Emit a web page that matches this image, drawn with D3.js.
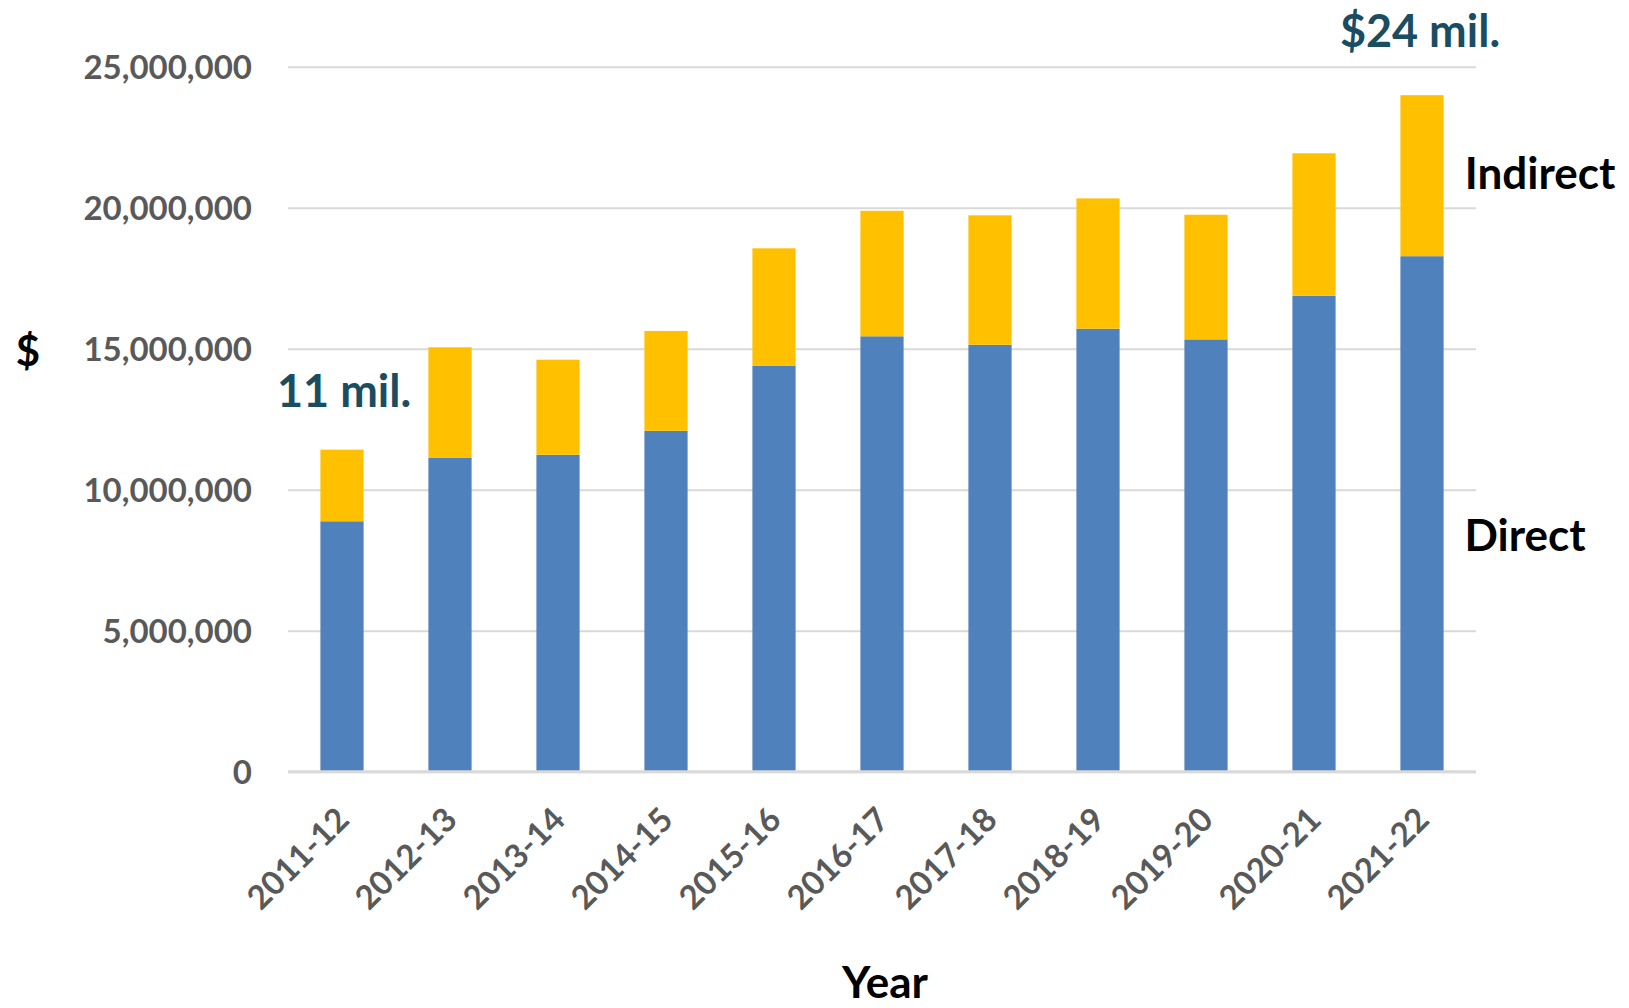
<!DOCTYPE html>
<html>
<head>
<meta charset="utf-8">
<script src="https://cdn.jsdelivr.net/npm/d3@7"></script>
<style>
  body { margin: 0; background: #fff; }
  text { font-family: Lato, "Open Sans", sans-serif; font-weight: bold; }
</style>
</head>
<body>
<svg id="chart" width="1629" height="1008"></svg>
<script>
var years = ["2011-12", "2012-13", "2013-14", "2014-15", "2015-16", "2016-17", "2017-18", "2018-19", "2019-20", "2020-21", "2021-22"]
var direct = [8880000, 11140000, 11240000, 12090000, 14400000, 15440000, 15140000, 15710000, 15330000, 16880000, 18280000]
var indirect = [2540000, 3910000, 3370000, 3540000, 4160000, 4450000, 4590000, 4620000, 4420000, 5050000, 5710000]
var yTicks = [0, 5000000, 10000000, 15000000, 20000000, 25000000]
var seriesNames = ["Direct", "Indirect"]
var colors = ["#4f81bd", "#ffc000"]

// plot box (window.top is reserved, so no "top" here)
var plotLeft = 288, plotRight = 1476, plotTop = 66.7, plotBottom = 771.7

var svg = d3.select("#chart")

var x = d3.scaleBand().domain(years).range([plotLeft, plotRight]).paddingInner(0.6).paddingOuter(0.3)
var y = d3.scaleLinear().domain([0, 25000000]).range([plotBottom, plotTop])

var rows = years.map(function(yr, i) {
  return { year: yr, Direct: direct[i], Indirect: indirect[i] }
})
var stacked = d3.stack().keys(seriesNames)(rows)

// gridlines + y labels
var yAxis = d3.axisLeft(y).tickValues(yTicks).tickSize(-(plotRight - plotLeft)).tickFormat(d3.format(","))
var gy = svg.append("g").attr("transform", "translate(" + plotLeft + ",0)").call(yAxis)
gy.select(".domain").remove()
gy.selectAll(".tick line").attr("stroke", "#d9d9d9").attr("stroke-width", 2)
gy.selectAll(".tick text")
  .attr("x", -36).attr("dy", "0.36em")
  .attr("fill", "#595959").style("font-size", "33px")
  .style("font-family", "Lato, sans-serif").style("font-weight", "bold")

// bars
svg.append("g").selectAll("g").data(stacked).join("g")
  .attr("fill", function(d, i) { return colors[i] })
  .selectAll("rect").data(function(d) { return d }).join("rect")
  .attr("x", function(d) { return x(d.data.year) })
  .attr("width", x.bandwidth())
  .attr("y", function(d) { return y(d[1]) })
  .attr("height", function(d) { return y(d[0]) - y(d[1]) })

// x axis line
var xAxis = d3.axisBottom(x).tickSize(0)
var gx = svg.append("g").attr("transform", "translate(0," + plotBottom + ")").call(xAxis)
gx.select(".domain").attr("stroke", "#d9d9d9").attr("stroke-width", 3)
  .attr("d", "M" + plotLeft + ",0H" + plotRight)
gx.selectAll(".tick text")
  .attr("text-anchor", "end")
  .attr("transform", "translate(9,50) rotate(-45)")
  .attr("y", 0).attr("dy", 0)
  .attr("fill", "#595959").style("font-size", "33px")
  .style("font-family", "Lato, sans-serif").style("font-weight", "bold")

// titles and notes
svg.append("text").attr("x", 28).attr("y", 366).attr("text-anchor", "middle")
  .style("font-size", "42px").attr("fill", "#000").text("$")
svg.append("text").attr("x", 885).attr("y", 998).attr("text-anchor", "middle")
  .style("font-size", "44px").attr("fill", "#000").text("Year")

svg.append("text").attr("x", 1540).attr("y", 189)
  .attr("text-anchor", "middle").style("font-size", "44px").attr("fill", "#000").text(seriesNames[1])
svg.append("text").attr("x", 1525).attr("y", 551)
  .attr("text-anchor", "middle").style("font-size", "44px").attr("fill", "#000").text(seriesNames[0])

svg.append("text").attr("x", 277).attr("y", 407)
  .style("font-size", "45px").attr("fill", "#1a4d61").text("11 mil.")
svg.append("text").attr("x", 1420).attr("y", 46.7).attr("text-anchor", "middle")
  .style("font-size", "45px").attr("fill", "#1a4d61").text("$24 mil.")
</script>
</body>
</html>
